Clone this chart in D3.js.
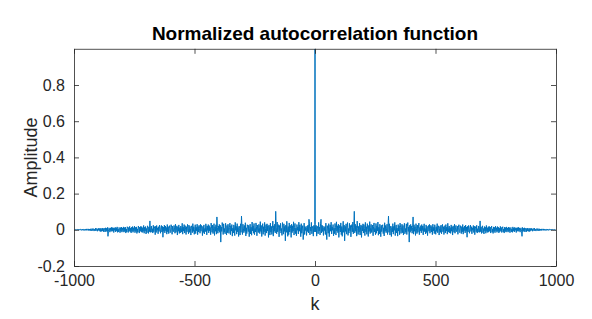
<!DOCTYPE html>
<html>
<head>
<meta charset="utf-8">
<script src="https://cdn.jsdelivr.net/npm/d3@7/dist/d3.min.js"></script>
<style>
  html, body { margin: 0; padding: 0; background: #fff; }
  svg { display: block; font-family: "Liberation Sans", Arial, Helvetica, sans-serif; }
</style>
</head>
<body>
<svg id="chart" width="592" height="319"></svg>
<script>
// ---- data ----
const titleText = "Normalized autocorrelation function";
const xLabelText = "k";
const yLabelText = "Amplitude";
const xTicks = [-1000, -500, 0, 500, 1000];
const xTickLabels = ["-1000", "-500", "0", "500", "1000"];
const yTicks = [-0.2, 0, 0.2, 0.4, 0.6, 0.8];
const yTickLabels = ["-0.2", "0", "0.2", "0.4", "0.6", "0.8"];
const xDomain = [-1000, 1000];
const yDomain = [-0.2, 1];

// positive lags k = 1, 3, 5, ..., 999 and the value at k = 0
const posLags = d3.range(1, 1000, 2);
const rZero = 1.0;
// normalized autocorrelation at the positive lags
// (the autocorrelation of a real signal is even: r(-k) = r(k))
const rPos = [
  .031,-.012,.024,-.035,.008,.019,-.022,.041,-.006,.015,-.028,.033,.058,-.017,.026,-.009,.021,-.031,.012,-.004,
  .018,-.026,.037,-.011,-.054,.023,.005,-.019,.034,-.038,.011,.027,-.008,.042,-.023,.016,-.003,.029,-.033,.009,
  -.021,.035,.013,-.029,.044,-.007,.022,-.016,.031,-.042,.006,.025,-.012,.038,-.027,.018,-.036,.010,.047,-.014,
  .026,-.061,.019,-.009,.033,-.024,.012,.040,-.031,.007,-.018,.036,-.005,.024,-.039,.015,.029,-.011,.043,-.022,
  .014,.102,-.017,.031,-.008,.022,-.035,.048,.006,-.026,.019,-.013,.037,-.029,.010,.027,-.042,.021,-.006,.033,
  -.018,.029,.008,-.032,.041,-.011,.017,-.025,.034,.003,-.037,.024,-.009,.045,-.021,.012,.030,-.015,-.004,.026,
  -.033,.019,.038,-.012,.007,-.027,.035,-.019,.022,-.006,.043,-.030,.014,-.023,.031,.009,-.038,.025,-.010,.017,
  .028,-.021,.011,-.034,.039,-.008,.024,-.016,.005,.031,-.026,.018,.076,-.014,.033,-.029,.008,.021,-.037,.013,
  -.011,.034,-.024,.019,-.003,.041,-.032,.015,.027,-.018,.009,-.035,.029,-.007,.022,-.027,.037,.012,-.020,.004,
  .031,-.016,.024,-.029,.010,.036,-.022,.007,-.013,.033,-.026,.019,.040,-.009,.016,-.068,.025,-.014,.030,-.005,
  .021,-.019,.012,.071,-.024,.028,-.008,.017,-.031,.034,.005,-.021,.026,-.014,.009,.037,-.027,.013,-.006,.023,
  -.017,.029,-.004,.021,-.028,.015,.033,-.010,.007,-.023,.027,-.015,.019,-.032,.011,.024,-.008,.030,-.019,.006,
  .025,-.012,.018,-.027,.031,-.006,.014,-.021,.028,.003,-.025,.017,-.009,.034,-.016,.011,.022,-.029,.008,.019,
  -.014,.026,-.022,.009,.030,-.011,.017,-.026,.004,.023,-.018,.029,-.007,.015,-.024,.036,-.013,.010,.021,-.017,
  .012,-.020,.027,-.008,.016,-.029,.022,.005,-.014,.031,-.019,.011,.024,-.010,-.003,.020,-.025,.014,.028,-.009,
  -.016,.023,.007,-.021,.018,-.011,.029,-.024,.013,-.005,.021,-.017,.026,-.008,.015,-.041,.019,-.012,.024,.003,
  -.019,.014,.026,-.009,.017,-.022,.011,-.003,.024,-.015,.020,-.027,.008,.018,-.011,.025,-.018,.006,-.013,.021,
  .009,-.014,.049,-.010,.016,-.020,.012,.022,-.016,.007,-.023,.018,-.006,.014,-.019,.024,-.009,.011,-.015,.017,
  -.012,.019,-.007,.015,-.018,.010,.021,-.013,.005,-.020,.016,-.009,.013,-.016,.020,-.005,.011,-.014,.018,-.008,
  .014,-.017,.009,-.011,.019,-.006,.013,-.015,.008,.017,-.012,.004,-.018,.015,-.009,.012,-.013,.016,-.004,.010,
  -.013,.015,-.008,.012,-.016,.007,.013,-.011,.005,-.014,.016,-.006,.010,-.012,.014,-.003,.009,-.015,.011,-.007,
  .012,-.009,.014,-.005,.010,-.013,.006,.011,-.008,-.036,.013,-.010,.008,-.007,.011,-.012,.005,.009,-.011,.007,
  -.006,.010,-.009,.004,.008,-.010,.007,-.005,.009,-.003,.006,-.008,.005,.007,-.006,.009,-.004,.003,-.007,.005,
  .006,-.004,.007,-.005,.003,.005,-.006,.004,-.002,.005,-.004,.003,.004,-.003,.005,-.002,.003,-.004,.002,.003,
  -.003,.004,-.002,.003,-.003,.002,.003,-.002,.001,.002,-.002,.003,-.001,.002,.001,-.002,.001,.001,-.001,.000
];

// full table k = -999 ... 999 built from the arrays above
const series = posLags.map((k, i) => ({ k: -k, r: rPos[i] })).reverse()
  .concat([{ k: 0, r: rZero }])
  .concat(posLags.map((k, i) => ({ k: k, r: rPos[i] })));

// ---- layout ----
const svg = d3.select("#chart");
const plot = { left: 74, right: 556, top: 48.8, bottom: 266 };
const axisColor = "#262626";
const lineColor = "#0072BD";

const x = d3.scaleLinear().domain(xDomain).range([plot.left, plot.right]);
const y = d3.scaleLinear().domain(yDomain).range([plot.bottom, plot.top]);

svg.append("rect").attr("width", 592).attr("height", 319).attr("fill", "#fff");

svg.append("defs").append("clipPath").attr("id", "clip")
  .append("rect")
  .attr("x", plot.left).attr("y", plot.top)
  .attr("width", plot.right - plot.left).attr("height", plot.bottom - plot.top);

// data line
const line = d3.line().x(d => x(d.k)).y(d => y(d.r));
svg.append("path")
  .datum(series)
  .attr("clip-path", "url(#clip)")
  .attr("fill", "none")
  .attr("stroke", lineColor)
  .attr("stroke-width", 1)
  .attr("stroke-linejoin", "round")
  .attr("d", line);

// axes (inward ticks, box)
const tickLen = 5;
const bottomAxis = d3.axisBottom(x).tickValues(xTicks).tickSizeInner(-tickLen).tickSizeOuter(0).tickPadding(9)
  .tickFormat((d, i) => xTickLabels[i]);
const topAxis = d3.axisTop(x).tickValues(xTicks).tickSizeInner(-tickLen).tickSizeOuter(0).tickFormat("");
const leftAxis = d3.axisLeft(y).tickValues(yTicks).tickSizeInner(-tickLen).tickSizeOuter(0).tickPadding(9)
  .tickFormat((d, i) => yTickLabels[i]);
const rightAxis = d3.axisRight(y).tickValues(yTicks).tickSizeInner(-tickLen).tickSizeOuter(0).tickFormat("");

function styleAxis(g) {
  g.select(".domain").attr("stroke", axisColor).attr("stroke-width", 1).attr("opacity", 0.8);
  g.selectAll(".tick line").attr("stroke", axisColor).attr("stroke-width", 1).attr("opacity", 0.8);
  g.selectAll(".tick text").attr("fill", axisColor).attr("font-size", 16)
    .attr("font-family", "'Liberation Sans', Arial, sans-serif");
}

svg.append("g").attr("transform", `translate(0,${plot.bottom})`).call(bottomAxis).call(styleAxis);
svg.append("g").attr("transform", `translate(0,${plot.top})`).call(topAxis).call(styleAxis);
svg.append("g").attr("transform", `translate(${plot.left},0)`).call(leftAxis).call(styleAxis);
svg.append("g").attr("transform", `translate(${plot.right},0)`).call(rightAxis).call(styleAxis);

// title & labels
svg.append("text")
  .attr("x", (plot.left + plot.right) / 2).attr("y", 40)
  .attr("text-anchor", "middle")
  .attr("font-size", 19).attr("font-weight", "bold").attr("fill", "#000")
  .text(titleText);

svg.append("text")
  .attr("x", (plot.left + plot.right) / 2).attr("y", 310)
  .attr("text-anchor", "middle")
  .attr("font-size", 18).attr("fill", axisColor)
  .text(xLabelText);

svg.append("text")
  .attr("transform", `translate(37,${(plot.top + plot.bottom) / 2}) rotate(-90)`)
  .attr("text-anchor", "middle")
  .attr("font-size", 18).attr("fill", axisColor)
  .text(yLabelText);
</script>
</body>
</html>
